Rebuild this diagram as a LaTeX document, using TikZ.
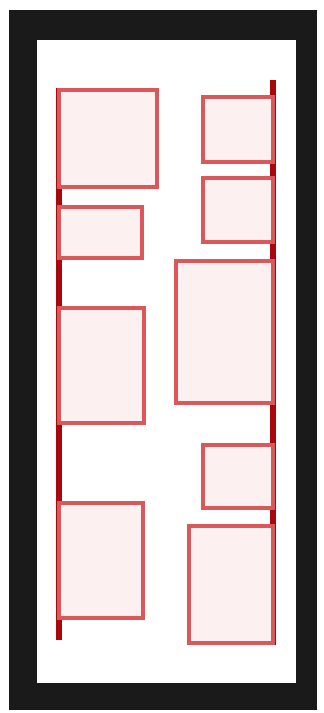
\documentclass[tikz,border=0pt]{standalone}
\definecolor{railred}{RGB}{168,8,12}
\definecolor{panelline}{RGB}{218,88,90}
\definecolor{panelfill}{RGB}{253,240,241}
\definecolor{framegray}{RGB}{26,26,26}
\begin{document}
\begin{tikzpicture}[
x=0.03cm, y=-0.03cm,
rail/.style={draw=railred, line width=5pt},
panel/.style={draw=panelline, fill=panelfill, line width=2.6pt}
]
\useasboundingbox (0,0) rectangle (323,713);

% frame
\fill[framegray] (9,10) rectangle (317,710);
\fill[white] (37,40) rectangle (296,683);

% rails
\coordinate (Lt) at (59,88);
\coordinate (Lb) at (59,640);
\coordinate (Rt) at (273,80);
\coordinate (Rb) at (273,645);
\draw[rail] (Lt) -- (Lb);
\draw[rail] (Rt) -- (Rb);

% left column
\draw[panel] (59,90) rectangle (157,187);
\draw[panel] (59,207) rectangle (142,258);
\draw[panel] (59,308) rectangle (144,423);
\draw[panel] (59,503) rectangle (143,618);

% right column
\draw[panel] (203,97) rectangle (273,162);
\draw[panel] (203,178) rectangle (273,242);
\draw[panel] (176,261) rectangle (273,403);
\draw[panel] (203,445) rectangle (273,508);
\draw[panel] (189,526) rectangle (273,643);

\end{tikzpicture}
\end{document}
